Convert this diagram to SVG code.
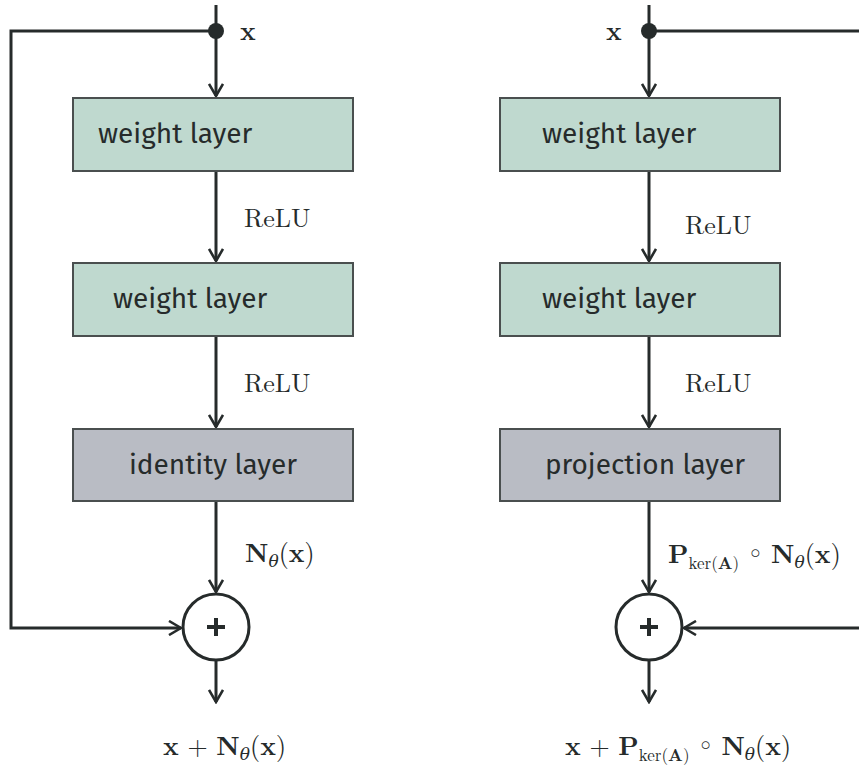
<svg xmlns="http://www.w3.org/2000/svg" width="859" height="767" viewBox="0 0 859 767">
<defs>
<marker id="ah" viewBox="0 0 16 16" refX="14" refY="8" markerWidth="16" markerHeight="16" markerUnits="userSpaceOnUse" orient="auto">
<path d="M2,1 L14,8 L2,15" fill="none" stroke="#262b2b" stroke-width="2.6"/>
</marker>
<style>
.ln{stroke:#262b2b;stroke-width:3;fill:none}
.box{stroke:#4a4f4f;stroke-width:2}
.g{fill:#bfd9cf}
.gr{fill:#b9bcc4}
.lab{font-family:"Fira Sans","Open Sans","DejaVu Sans",sans-serif;font-size:28px;fill:#262b2b}
.m{font-family:"Latin Modern Roman","DejaVu Serif","Liberation Serif",serif;fill:#262b2b;font-size:26px}
.mb{font-weight:bold}
.sub{font-size:17px}
</style>
</defs>
<rect width="859" height="767" fill="#fff"/>
<g id="connectors">
<path class="ln" d="M216,5 V96" marker-end="url(#ah)"/>
<path class="ln" d="M216,31 H11 V628 H181" marker-end="url(#ah)"/>
<path class="ln" d="M216,171 V261" marker-end="url(#ah)"/>
<path class="ln" d="M216,336 V427" marker-end="url(#ah)"/>
<path class="ln" d="M216,501 V592" marker-end="url(#ah)"/>
<path class="ln" d="M216,661 V702" marker-end="url(#ah)"/>
<circle cx="216" cy="31" r="8" fill="#262b2b"/>
<path class="ln" d="M649,5 V96" marker-end="url(#ah)"/>
<path class="ln" d="M649,31 H859"/>
<path class="ln" d="M859,628 H684" marker-end="url(#ah)"/>
<path class="ln" d="M649,171 V261" marker-end="url(#ah)"/>
<path class="ln" d="M649,336 V427" marker-end="url(#ah)"/>
<path class="ln" d="M649,501 V592" marker-end="url(#ah)"/>
<path class="ln" d="M649,661 V702" marker-end="url(#ah)"/>
<circle cx="649" cy="31" r="8" fill="#262b2b"/>
</g>
<g id="L1"><rect class="box g" x="73" y="98" width="280" height="73"/><text class="lab" x="98" y="143">weight layer</text></g>
<g id="L2"><rect class="box g" x="73" y="263" width="280" height="73"/><text class="lab" x="113" y="308">weight layer</text></g>
<g id="L3"><rect class="box gr" x="73" y="429" width="280" height="72"/><text class="lab" x="213" y="474" text-anchor="middle">identity layer</text></g>
<g id="Lsum"><circle cx="216" cy="627" r="33" fill="#fff" stroke="#262b2b" stroke-width="3"/><path d="M207,627 H225 M216,618 V636" stroke="#262b2b" stroke-width="4"/></g>
<g id="R1"><rect class="box g" x="500" y="98" width="280" height="73"/><text class="lab" x="542" y="143">weight layer</text></g>
<g id="R2"><rect class="box g" x="500" y="263" width="280" height="73"/><text class="lab" x="542" y="308">weight layer</text></g>
<g id="R3"><rect class="box gr" x="500" y="429" width="280" height="72"/><text class="lab" x="645" y="474" text-anchor="middle">projection layer</text></g>
<g id="Rsum"><circle cx="649" cy="627" r="33" fill="#fff" stroke="#262b2b" stroke-width="3"/><path d="M640,627 H658 M649,618 V636" stroke="#262b2b" stroke-width="4"/></g>
<g id="labels">
<text class="m mb" x="240" y="40">x</text>
<text class="m mb" x="606" y="40">x</text>
<text class="m" x="244" y="227">ReLU</text>
<text class="m" x="244" y="392">ReLU</text>
<text class="m" x="685" y="234">ReLU</text>
<text class="m" x="685" y="392">ReLU</text>
<text class="m" x="245" y="562"><tspan class="mb">N</tspan><tspan class="sub" dy="5" font-style="italic">θ</tspan><tspan dy="-5">(</tspan><tspan class="mb">x</tspan>)</text>
<text class="m" x="163" y="755"><tspan class="mb">x</tspan> + <tspan class="mb">N</tspan><tspan class="sub" dy="5" font-style="italic">θ</tspan><tspan dy="-5">(</tspan><tspan class="mb">x</tspan>)</text>
<text class="m" x="668" y="563"><tspan class="mb">P</tspan><tspan class="sub" dy="6">ker(<tspan class="mb">A</tspan>)</tspan><tspan dy="-6" font-family="DejaVu Sans"> ◦ </tspan><tspan class="mb">N</tspan><tspan class="sub" dy="5" font-style="italic">θ</tspan><tspan dy="-5">(</tspan><tspan class="mb">x</tspan>)</text>
<text class="m" x="565" y="755"><tspan class="mb">x</tspan> + <tspan class="mb">P</tspan><tspan class="sub" dy="6">ker(<tspan class="mb">A</tspan>)</tspan><tspan dy="-6" font-family="DejaVu Sans"> ◦ </tspan><tspan class="mb">N</tspan><tspan class="sub" dy="5" font-style="italic">θ</tspan><tspan dy="-5">(</tspan><tspan class="mb">x</tspan>)</text>
</g>
</svg>
